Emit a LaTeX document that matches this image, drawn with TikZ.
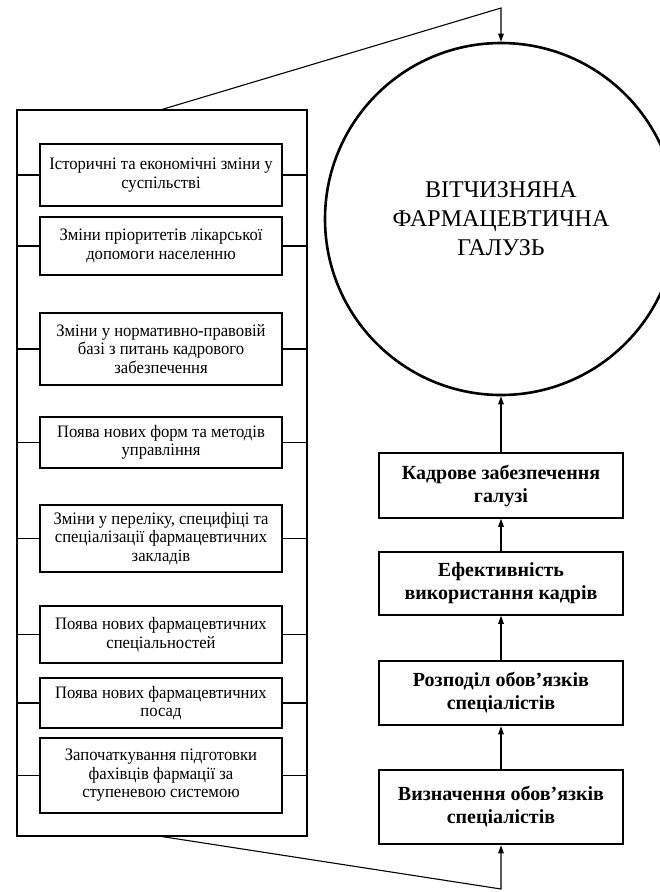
\documentclass[tikz,border=0pt]{standalone}
\usepackage{fontspec}
\setmainfont{Liberation Serif}
\newfontfamily\condfont[FakeStretch=0.95]{Liberation Serif}
\usetikzlibrary{arrows.meta}
\begin{document}
\begin{tikzpicture}[x=1pt,y=-1pt,
  lbox/.style={draw, line width=1.1pt, minimum width=242pt, inner sep=2pt, align=center,
    font=\condfont\fontsize{17.5}{18.5}\selectfont},
  rbox/.style={draw, line width=1.5pt, minimum width=244pt, inner sep=2pt, align=center,
    font=\bfseries\fontsize{20}{23}\selectfont},
  rboxthick/.style={rbox, line width=2.6pt},
  conn/.style={line width=1.1pt},
  arr/.style={line width=1.1pt, -{Triangle[length=8pt,width=5.5pt]}},
]
\clip (0,0) rectangle (660,892);
\fill[white] (0,0) rectangle (660,892);

% outer container
\node[draw, line width=1.1pt, minimum width=290pt, minimum height=726pt, inner sep=0pt] (outer) at (162,473) {};

% left boxes
\node[lbox, minimum height=62pt] (b1) at (161,175) {Історичні та економічні зміни у\\суспільстві};
\node[lbox, minimum height=58pt] (b2) at (161,246) {Зміни пріоритетів лікарської\\допомоги населенню};
\node[lbox, minimum height=72pt] (b3) at (161,349) {Зміни у нормативно-правовій\\базі з питань кадрового\\забезпечення};
\node[lbox, minimum height=51pt] (b4) at (161,442.5) {Поява нових форм та методів\\управління};
\node[lbox, minimum height=67pt] (b5) at (161,538.5) {Зміни у переліку, специфіці та\\спеціалізації фармацевтичних\\закладів};
\node[lbox, minimum height=57pt] (b6) at (161,634.5) {Поява нових фармацевтичних\\спеціальностей};
\node[lbox, minimum height=50pt] (b7) at (161,703) {Поява нових фармацевтичних\\посад};
\node[lbox, minimum height=75pt] (b8) at (161,775.5) {Започаткування підготовки\\фахівців фармації за\\ступеневою системою};

\foreach \b in {b1,b2,b3,b4,b5,b6,b7,b8}{
  \draw[conn] (\b.west) -- (\b.west -| outer.west);
  \draw[conn] (\b.east) -- (\b.east -| outer.east);
}

% circle
\node[draw, circle, line width=2.6pt, minimum size=352pt, inner sep=0pt, align=center,
  font=\fontsize{24}{29}\selectfont] (circ) at (501,219) {ВІТЧИЗНЯНА\\ФАРМАЦЕВТИЧНА\\ГАЛУЗЬ};

% right column
\node[rbox, minimum height=65pt] (kadr) at (501,485.5) {Кадрове забезпечення\\галузі};
\node[rbox, minimum height=63pt] (efek) at (501,583.5) {Ефективність\\використання кадрів};
\node[rboxthick, minimum height=64pt] (rozp) at (501,693) {Розподіл обов’язків\\спеціалістів};
\node[rboxthick, minimum height=74pt] (vyzn) at (501,807) {Визначення обов’язків\\спеціалістів};

\coordinate (topc) at (501,8);
\coordinate (botc) at (501,889);

\draw[arr] (outer.north) -- (topc) -- (circ.north);
\draw[arr] (kadr.north) -- (circ.south);
\draw[arr] (efek.north) -- (kadr.south);
\draw[arr] (rozp.north) -- (efek.south);
\draw[arr] (vyzn.north) -- (rozp.south);
\draw[arr] (outer.south) -- (botc) -- (vyzn.south);
\end{tikzpicture}
\end{document}
